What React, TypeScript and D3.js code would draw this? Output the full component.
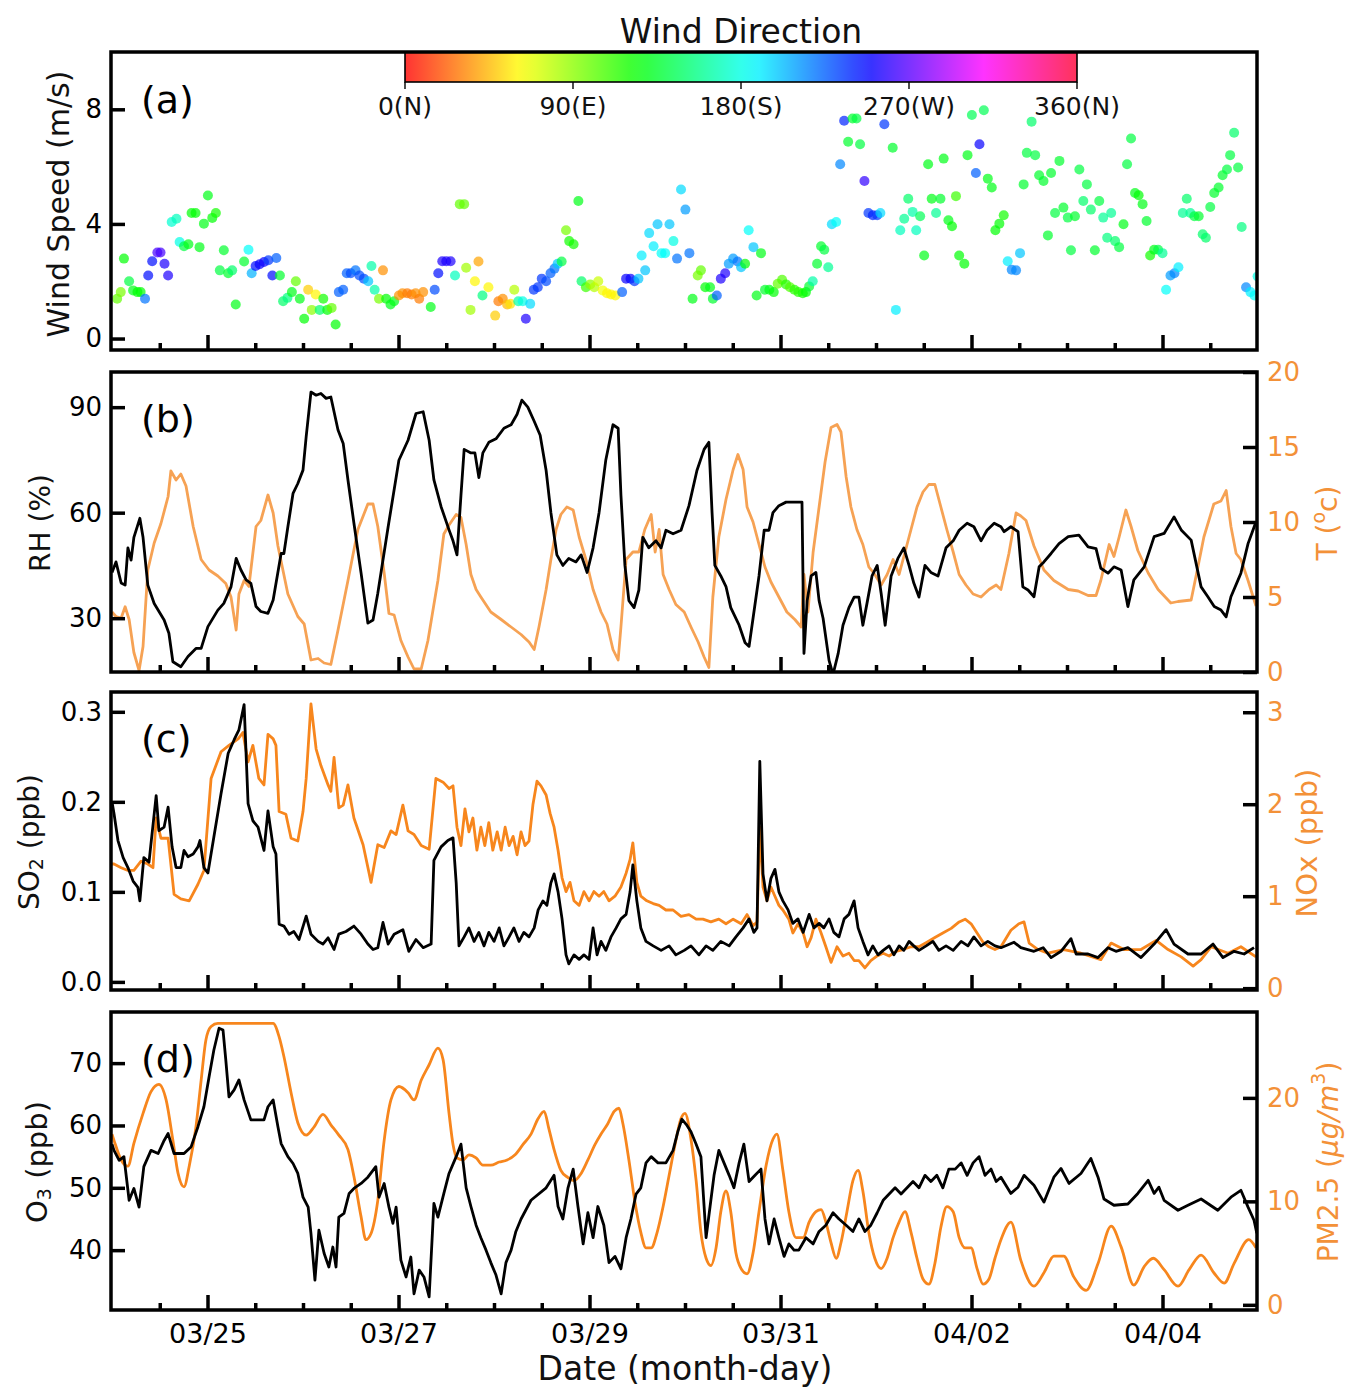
import React, { useRef, useEffect } from "react";
import * as d3 from "d3";

const FONT = "DejaVu Sans, Verdana, sans-serif";
const START = new Date(2021, 2, 24, 0, 0);
const END = new Date(2021, 3, 5, 0, 0);

// panel (a): hours since 03/24 00:00, wind speed (m/s), wind direction (deg)
const windHour = [1.3, 2.2, 3.0, 4.3, 5.3, 6.4, 7.2, 8.3, 9.1, 10.1, 11.4, 12.2, 13.2, 14.1, 15.0, 16.2, 17.0, 18.1, 19.2, 20.0, 21.0, 22.0, 23.1, 24.1, 25.2, 26.1, 27.1, 28.1, 29.2, 30.2, 31.1, 33.2, 34.3, 35.1, 36.1, 37.1, 38.2, 39.3, 40.3, 41.3, 42.2, 43.0, 44.1, 45.2, 46.2, 47.2, 48.3, 49.3, 50.2, 51.2, 52.2, 53.1, 54.1, 55.2, 56.2, 57.0, 58.1, 59.0, 60.0, 61.2, 62.2, 63.3, 64.4, 65.2, 66.0, 67.1, 68.1, 68.9, 70.0, 70.9, 72.1, 73.0, 74.2, 75.3, 76.3, 77.2, 78.2, 80.1, 81.1, 82.0, 83.0, 84.0, 85.1, 86.2, 87.4, 88.5, 89.0, 90.1, 91.2, 92.1, 93.1, 94.6, 96.3, 97.1, 98.2, 99.3, 100.1, 101.1, 102.1, 103.2, 104.0, 105.1, 106.0, 107.0, 108.0, 109.1, 110.2, 111.2, 112.0, 113.0, 114.1, 114.9, 116.0, 117.2, 118.0, 119.1, 120.2, 121.2, 122.2, 123.3, 124.4, 125.4, 126.5, 128.2, 129.2, 130.3, 131.3, 132.3, 133.1, 134.0, 135.0, 136.1, 137.1, 138.1, 139.0, 140.1, 141.1, 142.0, 143.0, 144.1, 145.1, 145.9, 147.2, 148.0, 149.1, 150.3, 151.0, 152.0, 153.0, 154.1, 155.0, 156.1, 157.2, 158.1, 159.1, 160.0, 161.2, 162.0, 163.1, 164.1, 165.2, 166.3, 167.3, 168.4, 169.4, 170.4, 171.5, 172.5, 173.6, 174.4, 175.2, 176.1, 177.2, 178.2, 179.0, 180.0, 180.9, 182.0, 183.0, 184.0, 185.0, 186.1, 187.1, 188.0, 189.1, 190.1, 191.2, 192.3, 193.1, 194.1, 196.2, 197.0, 198.1, 199.1, 200.1, 201.2, 202.1, 203.1, 204.1, 205.1, 206.0, 207.1, 208.2, 209.0, 210.2, 211.1, 212.1, 212.9, 214.2, 215.0, 216.1, 217.1, 218.0, 219.1, 220.1, 221.1, 222.0, 223.0, 224.1, 225.1, 226.1, 227.2, 228.2, 229.1, 229.9, 231.1, 232.0, 233.0, 234.1, 235.2, 236.0, 237.0, 238.1, 239.1, 240.2, 241.0, 242.0, 243.1, 244.1, 245.0, 246.0, 247.0, 248.1, 249.1, 250.1, 251.1, 252.1, 253.1, 254.2, 255.1, 256.1, 257.1, 258.0, 259.0, 260.0, 260.9, 261.9, 262.9, 264.0, 264.9, 266.0, 267.0, 268.0, 269.1, 270.1, 271.0, 272.0, 273.1, 274.1, 274.9, 276.0, 277.0, 278.1, 279.1, 280.2, 281.0, 282.0, 283.0, 283.9, 285.0, 286.1, 287.1, 287.9];
const windSpeed = [1.39, 1.62, 2.79, 2.0, 1.68, 1.62, 1.62, 1.39, 2.2, 2.7, 3.0, 3.0, 2.61, 2.2, 4.07, 4.18, 3.37, 3.22, 3.29, 4.38, 4.38, 3.19, 4.01, 4.99, 4.21, 4.38, 2.38, 3.08, 2.28, 2.38, 1.19, 2.69, 3.1, 2.28, 2.53, 2.59, 2.67, 2.73, 2.2, 2.81, 2.2, 1.3, 1.42, 1.62, 2.0, 1.39, 0.69, 1.7, 1.0, 1.54, 1.0, 1.39, 1.0, 1.07, 0.49, 1.62, 1.7, 2.28, 2.28, 2.38, 2.2, 2.09, 2.0, 2.53, 1.7, 1.39, 2.38, 1.39, 1.19, 1.3, 1.5, 1.58, 1.58, 1.54, 1.58, 1.39, 1.62, 1.1, 1.7, 2.28, 2.7, 2.7, 2.7, 2.2, 4.69, 4.69, 2.47, 1.0, 2.0, 2.69, 1.5, 1.79, 0.8, 1.3, 1.39, 1.19, 1.21, 1.7, 1.3, 1.3, 0.69, 1.21, 1.7, 1.79, 2.09, 2.0, 2.28, 2.44, 2.61, 2.69, 3.78, 3.4, 3.29, 4.8, 2.0, 1.79, 1.89, 1.79, 2.0, 1.68, 1.58, 1.54, 1.5, 1.62, 2.09, 2.09, 2.0, 2.09, 2.9, 2.38, 3.68, 3.22, 3.99, 2.98, 2.98, 3.99, 3.4, 2.79, 5.2, 4.5, 2.98, 1.39, 2.2, 2.38, 1.79, 1.79, 1.39, 1.5, 2.09, 2.28, 2.61, 2.79, 2.69, 2.49, 2.61, 3.78, 3.19, 1.5, 2.98, 1.7, 1.7, 1.62, 1.91, 2.05, 1.89, 1.79, 1.7, 1.62, 1.58, 1.62, 1.82, 2.0, 2.61, 3.22, 3.1, 2.49, 3.99, 4.07, 6.08, 7.6, 6.87, 7.68, 7.68, 6.78, 5.5, 4.38, 4.3, 4.3, 4.38, 7.48, 6.66, 1.0, 3.78, 4.18, 4.88, 4.42, 3.78, 4.27, 2.9, 6.08, 4.88, 4.38, 4.88, 6.28, 4.13, 3.92, 4.97, 2.9, 2.61, 6.4, 7.8, 5.78, 6.78, 7.97, 5.58, 5.27, 3.78, 4.01, 4.3, 2.7, 2.4, 2.38, 2.98, 5.38, 6.48, 7.57, 6.4, 5.7, 5.5, 3.6, 5.78, 4.38, 6.2, 4.57, 4.22, 3.08, 4.27, 5.9, 4.8, 5.38, 4.5, 3.08, 4.8, 4.22, 3.52, 4.38, 3.4, 3.19, 3.99, 6.08, 6.98, 5.08, 5.0, 4.69, 4.1, 2.9, 3.1, 3.1, 2.98, 1.7, 2.2, 2.28, 2.49, 4.38, 4.88, 4.38, 4.27, 4.27, 3.64, 3.52, 4.59, 5.08, 5.27, 5.7, 5.9, 6.4, 7.18, 5.97, 3.89, 1.79, 1.62, 1.5, 2.17];
const windDir = [100, 95, 125, 140, 130, 125, 125, 220, 245, 245, 265, 265, 255, 255, 175, 170, 180, 140, 130, 125, 125, 130, 130, 130, 125, 120, 140, 135, 135, 150, 130, 135, 185, 205, 245, 250, 250, 235, 245, 225, 135, 150, 155, 130, 100, 130, 125, 50, 90, 60, 150, 120, 125, 100, 125, 225, 225, 225, 230, 220, 230, 230, 200, 165, 165, 95, 35, 125, 130, 130, 35, 35, 30, 30, 35, 30, 35, 130, 230, 245, 255, 255, 255, 170, 100, 100, 85, 85, 60, 40, 155, 60, 50, 30, 35, 45, 55, 80, 165, 180, 255, 195, 235, 235, 235, 230, 225, 220, 200, 140, 95, 120, 120, 130, 150, 110, 90, 80, 75, 65, 60, 60, 60, 225, 250, 250, 235, 200, 190, 200, 195, 190, 200, 185, 185, 200, 180, 220, 195, 210, 220, 130, 95, 100, 125, 130, 135, 225, 255, 255, 210, 210, 220, 200, 125, 185, 200, 130, 130, 135, 130, 125, 100, 105, 115, 105, 115, 115, 120, 125, 135, 165, 135, 135, 140, 160, 195, 185, 215, 240, 135, 135, 140, 140, 260, 235, 240, 235, 195, 235, 135, 190, 170, 160, 150, 165, 170, 145, 130, 130, 130, 160, 135, 130, 130, 125, 110, 125, 125, 130, 145, 225, 250, 145, 130, 130, 125, 125, 120, 190, 215, 215, 200, 135, 140, 150, 140, 135, 135, 135, 135, 140, 135, 135, 140, 140, 135, 140, 150, 140, 150, 135, 140, 160, 155, 160, 150, 140, 130, 140, 140, 130, 125, 130, 135, 120, 130, 140, 160, 185, 210, 215, 190, 160, 150, 160, 140, 135, 150, 150, 140, 135, 135, 135, 140, 140, 150, 140, 155, 215, 190, 185, 180];

// panel (b): [hour, RH %] and [hour, T degC]
const rhSeries = [[0, 43], [1.0, 46], [2.3, 40], [3.3, 39.4], [4.0, 50], [4.8, 46.5], [5.5, 53], [7.0, 58.4], [7.8, 53], [9.0, 39.4], [10.6, 34.2], [13.1, 29.5], [14.3, 25.7], [15.3, 17.6], [17.3, 16.2], [19.1, 19.1], [21.1, 21.4], [22.4, 21.4], [24.1, 27.6], [26.6, 32.3], [28.1, 34.2], [29.9, 38.9], [31.2, 47.0], [32.4, 43.7], [33.7, 40.9], [34.9, 39.9], [36.2, 33.3], [37.4, 31.9], [39.2, 31.4], [40.5, 35.2], [42.5, 48.4], [43.2, 48.4], [44.2, 56.0], [45.5, 65.5], [46.7, 68.3], [48.0, 72.1], [48.8, 81.6], [50.0, 94.3], [51.3, 93.4], [52.5, 93.9], [53.8, 92.5], [55.0, 92.9], [56.8, 83.5], [58.1, 79.7], [59.3, 69.3], [60.8, 57.0], [62.6, 42.8], [64.3, 28.6], [65.6, 29.5], [66.8, 37.1], [69.4, 56.0], [72.1, 74.9], [74.4, 80.6], [76.4, 88.2], [78.2, 88.7], [79.7, 80.6], [80.9, 69.3], [82.7, 61.7], [84.7, 55.1], [85.7, 52], [86.7, 48], [87.7, 65], [88.5, 78], [90.2, 77], [91.2, 77], [92.2, 70], [93.2, 77], [94.7, 80], [96.5, 81], [98.5, 84], [100.3, 85], [101.8, 88], [103.0, 92], [104.5, 90], [106.1, 86], [107.6, 82], [109.1, 72], [110.3, 60], [111.8, 48], [113.3, 45], [114.8, 47], [116.6, 46], [117.9, 48], [119.4, 43], [120.9, 50], [122.4, 60], [124.1, 75], [125.9, 85], [127.2, 84], [127.9, 65], [128.9, 45], [129.9, 35], [131.2, 33], [132.4, 38], [133.4, 53], [134.9, 50], [136.7, 52], [138.0, 50], [139.2, 55], [141.0, 54], [143.0, 55], [145.0, 62], [147.0, 72], [148.8, 78], [150.0, 80], [150.8, 60], [151.5, 45], [153.0, 42], [154.3, 39], [155.5, 33], [157.6, 28], [159.1, 23], [160.1, 22], [161.1, 30], [162.6, 42], [163.9, 55], [165.1, 55], [166.1, 60], [167.6, 62], [169.4, 63], [171.9, 63], [173.4, 63], [173.9, 20], [174.7, 35], [175.7, 42], [176.9, 43], [177.7, 35], [178.7, 30], [180.2, 18], [181.2, 14], [182.5, 20], [183.7, 28], [185.2, 33], [186.5, 36], [187.7, 36], [188.7, 28], [189.7, 34], [191.0, 42], [192.3, 45], [193.3, 37], [194.3, 28], [195.8, 42], [197.5, 47], [199.0, 50], [200.3, 45], [201.5, 40], [202.8, 36], [204.3, 45], [205.8, 43], [207.6, 42], [209.6, 50], [211.4, 52], [212.9, 55], [214.9, 57], [216.6, 56], [218.4, 52], [219.9, 55], [221.7, 57], [223.4, 56], [224.2, 54.6], [225.9, 56], [227.7, 54.6], [228.9, 38.9], [230.2, 38], [231.7, 36.1], [233.0, 44.6], [234.2, 46], [236.0, 48.4], [238.0, 51.2], [240.3, 53.2], [243.0, 53.6], [245.3, 50.3], [247.3, 49.8], [248.5, 44.2], [250.3, 42.8], [251.8, 44.6], [253.6, 43.7], [255.3, 33.3], [256.8, 40.9], [259.4, 44.6], [261.9, 53.2], [264.4, 54.1], [266.9, 58.8], [268.7, 55.1], [271.2, 52.2], [273.7, 38.9], [275.4, 36.1], [277.0, 33.3], [278.7, 32.3], [280.0, 30.4], [281.2, 36.1], [283.0, 40.9], [283.7, 42.8], [285.5, 51.2], [287.5, 57.4]];
const tSeries = [[0, 4.0], [1.0, 3.7], [2.3, 3.6], [3.3, 4.35], [4.3, 3.5], [5.5, 1.3], [6.8, 0.1], [7.8, 1.7], [9.0, 6.8], [10.6, 8.6], [12.3, 9.9], [14.1, 11.7], [14.8, 13.4], [16.1, 12.8], [17.3, 13.2], [18.6, 12.4], [20.4, 9.7], [22.4, 7.5], [24.4, 6.8], [26.6, 6.4], [28.6, 5.9], [29.9, 5.0], [31.2, 2.8], [31.9, 5.2], [33.2, 6.1], [34.4, 5.7], [36.2, 9.7], [37.4, 10.1], [39.2, 11.8], [40.5, 10.6], [41.7, 8.4], [44.2, 5.2], [46.7, 3.7], [48.3, 3.2], [50.0, 0.8], [51.8, 0.9], [53.3, 0.6], [55.0, 0.5], [56.8, 2.8], [59.3, 6.1], [61.8, 9.5], [64.3, 11.2], [65.6, 11.2], [66.8, 9.7], [68.4, 6.6], [69.6, 3.9], [70.9, 3.8], [72.6, 2.1], [74.4, 1.0], [75.9, 0.2], [77.7, 0.2], [79.4, 2.1], [81.9, 6.1], [83.4, 9.2], [84.7, 9.8], [86.5, 10.5], [87.7, 10.3], [89.0, 8.5], [90.2, 6.5], [91.5, 5.5], [92.7, 5], [95.2, 4], [97.8, 3.5], [100.3, 3], [102.8, 2.5], [104.8, 2], [106.1, 1.5], [107.3, 3], [109.1, 5.5], [110.3, 7.5], [111.6, 9.5], [112.8, 10.5], [114.3, 11], [115.9, 10.8], [117.4, 9], [119.1, 7.5], [120.9, 5.5], [122.9, 4], [124.4, 3.2], [125.9, 1.5], [127.2, 0.8], [127.9, 3], [129.2, 7.5], [130.9, 8], [132.4, 8], [133.9, 9.5], [135.5, 10.5], [136.5, 8], [137.5, 9.5], [138.5, 6.5], [140.0, 5.5], [141.7, 4.5], [143.8, 4], [145.5, 3], [147.3, 2], [148.8, 1], [150.0, 0.3], [151.0, 5], [152.5, 9], [154.3, 11.5], [156.1, 13.5], [157.3, 14.5], [158.6, 13.5], [159.6, 11], [161.1, 10], [162.6, 8.5], [164.1, 7], [165.6, 6], [167.6, 5], [169.6, 4], [171.6, 3.5], [173.2, 3], [173.9, 6.5], [174.9, 4], [176.2, 8], [177.7, 11], [179.2, 14], [180.7, 16.3], [182.2, 16.5], [183.2, 16], [184.5, 13], [185.7, 11], [187.2, 9.5], [188.7, 8.5], [190.2, 7], [191.7, 6.5], [193.3, 5.8], [194.8, 6.5], [196.3, 7.5], [197.8, 6.5], [199.3, 8], [200.8, 9.5], [202.3, 11], [203.8, 12], [205.3, 12.5], [206.8, 12.5], [208.3, 11], [209.8, 9.5], [211.4, 8], [212.9, 6.5], [214.6, 5.8], [216.4, 5.2], [218.4, 5], [220.4, 5.5], [222.2, 5.8], [223.4, 5.5], [225.4, 7.9], [227.2, 10.6], [228.4, 10.4], [229.7, 10.1], [231.7, 8.4], [234.2, 6.8], [236.7, 6.1], [240.3, 5.5], [242.8, 5.4], [245.3, 5.1], [247.3, 5.1], [248.5, 6.1], [250.6, 8.5], [251.8, 7.7], [253.1, 9.0], [254.8, 10.8], [256.1, 9.7], [257.8, 8.1], [260.4, 6.6], [262.9, 5.5], [266.1, 4.6], [267.9, 4.7], [271.2, 4.8], [272.9, 7.0], [274.4, 9.0], [276.9, 11.2], [278.7, 11.4], [280.0, 12.1], [281.2, 9.7], [282.5, 7.9], [283.7, 7.5], [285.5, 6.1], [287.5, 4.4]];

// panel (c): [hour, SO2 ppb] and [hour, NOx ppb]
const so2Series = [[0, 0.2], [0.5, 0.187], [1.5, 0.157], [2.8, 0.138], [4.0, 0.127], [5.3, 0.112], [6.5, 0.105], [7.0, 0.09], [8.0, 0.138], [9.3, 0.133], [11.1, 0.207], [11.8, 0.168], [13.1, 0.172], [14.1, 0.194], [15.1, 0.15], [16.1, 0.127], [17.3, 0.127], [18.1, 0.146], [19.1, 0.139], [20.4, 0.142], [21.6, 0.15], [22.1, 0.157], [23.1, 0.127], [24.1, 0.121], [25.6, 0.161], [27.4, 0.209], [29.2, 0.254], [30.7, 0.269], [31.9, 0.28], [33.2, 0.308], [34.2, 0.198], [35.4, 0.179], [36.7, 0.172], [38.2, 0.146], [39.2, 0.19], [40.5, 0.15], [41.2, 0.142], [42.0, 0.064], [43.2, 0.062], [44.5, 0.053], [45.7, 0.056], [47.0, 0.047], [48.8, 0.073], [50.0, 0.053], [51.8, 0.045], [53.0, 0.042], [54.3, 0.049], [55.8, 0.036], [57.0, 0.053], [58.8, 0.056], [60.8, 0.062], [62.6, 0.053], [64.3, 0.042], [65.6, 0.036], [66.8, 0.038], [68.1, 0.066], [69.4, 0.042], [70.9, 0.053], [73.1, 0.058], [74.6, 0.034], [76.4, 0.047], [78.2, 0.038], [80.2, 0.042], [80.9, 0.135], [82.7, 0.15], [84.4, 0.157], [85.7, 0.16], [86.5, 0.11], [87.2, 0.04], [88.5, 0.05], [89.7, 0.06], [91.0, 0.045], [92.2, 0.055], [93.5, 0.04], [94.7, 0.055], [96.0, 0.045], [97.3, 0.06], [98.5, 0.04], [99.8, 0.05], [101.0, 0.06], [102.3, 0.045], [103.5, 0.055], [104.8, 0.05], [106.1, 0.06], [107.1, 0.08], [108.3, 0.09], [109.3, 0.085], [110.3, 0.11], [111.1, 0.12], [112.1, 0.1], [113.1, 0.07], [114.1, 0.03], [114.8, 0.02], [116.1, 0.03], [117.4, 0.025], [118.6, 0.03], [119.9, 0.025], [120.9, 0.06], [121.9, 0.03], [122.9, 0.045], [124.1, 0.035], [125.4, 0.05], [126.7, 0.06], [127.9, 0.07], [129.2, 0.075], [130.2, 0.1], [130.9, 0.13], [131.9, 0.09], [132.9, 0.06], [134.2, 0.045], [136.0, 0.04], [138.0, 0.035], [140.0, 0.04], [141.7, 0.03], [143.8, 0.035], [145.5, 0.04], [147.5, 0.03], [149.3, 0.04], [151.0, 0.035], [153.0, 0.045], [155.1, 0.04], [156.8, 0.05], [158.6, 0.06], [160.1, 0.07], [161.3, 0.055], [162.1, 0.06], [162.8, 0.245], [163.6, 0.12], [164.6, 0.09], [165.6, 0.115], [166.6, 0.125], [167.6, 0.1], [168.6, 0.09], [169.9, 0.08], [171.1, 0.065], [172.4, 0.07], [173.7, 0.055], [175.2, 0.075], [176.4, 0.06], [177.7, 0.065], [178.9, 0.06], [180.2, 0.07], [181.4, 0.055], [182.7, 0.05], [184.0, 0.07], [185.2, 0.075], [186.5, 0.09], [187.5, 0.06], [188.7, 0.045], [190.0, 0.03], [191.2, 0.04], [192.5, 0.03], [193.8, 0.035], [195.3, 0.04], [196.5, 0.03], [197.8, 0.04], [199.0, 0.035], [200.3, 0.045], [201.5, 0.04], [202.8, 0.035], [204.6, 0.04], [206.3, 0.045], [207.8, 0.035], [209.6, 0.04], [211.4, 0.035], [213.4, 0.045], [215.1, 0.04], [216.6, 0.05], [218.4, 0.04], [220.1, 0.045], [221.9, 0.04], [223.4, 0.038], [226.7, 0.044], [228.4, 0.038], [231.7, 0.034], [234.0, 0.038], [236.0, 0.027], [238.5, 0.034], [241.0, 0.048], [242.3, 0.031], [245.3, 0.031], [247.8, 0.027], [250.3, 0.038], [252.3, 0.034], [255.3, 0.038], [258.6, 0.027], [261.9, 0.042], [264.9, 0.058], [266.9, 0.042], [270.4, 0.031], [273.7, 0.031], [276.7, 0.042], [279.2, 0.027], [282.0, 0.034], [284.5, 0.031], [287.0, 0.038]];
const noxSeries = [[0, 1.35], [0.5, 1.35], [2.3, 1.31], [4.0, 1.28], [5.5, 1.28], [7.3, 1.38], [9.0, 1.35], [10.3, 1.31], [11.1, 1.85], [12.3, 1.63], [14.1, 1.63], [15.6, 1.02], [17.3, 0.97], [19.4, 0.95], [21.6, 1.13], [23.1, 1.28], [24.9, 2.28], [27.4, 2.57], [29.4, 2.64], [31.7, 2.71], [32.9, 2.78], [34.2, 2.46], [35.4, 2.64], [36.9, 2.28], [38.2, 2.21], [39.2, 2.76], [40.5, 2.71], [41.2, 2.64], [42.0, 1.92], [43.7, 1.89], [45.0, 1.63], [46.7, 1.6], [48.0, 1.92], [48.8, 2.28], [50.0, 3.09], [51.3, 2.6], [52.5, 2.42], [54.3, 2.21], [55.0, 2.14], [55.8, 2.51], [57.0, 1.96], [58.1, 1.99], [59.3, 2.21], [60.8, 1.85], [63.1, 1.56], [65.1, 1.15], [66.8, 1.56], [68.4, 1.53], [70.1, 1.71], [71.4, 1.67], [73.1, 1.99], [74.4, 1.71], [75.9, 1.67], [77.7, 1.55], [79.7, 1.51], [81.4, 2.28], [83.2, 2.24], [84.7, 2.17], [85.7, 2.2], [86.7, 1.75], [87.7, 1.55], [88.7, 1.95], [89.7, 1.7], [90.7, 1.85], [91.7, 1.5], [92.7, 1.75], [93.7, 1.55], [94.7, 1.8], [95.7, 1.5], [96.8, 1.7], [97.8, 1.5], [98.8, 1.75], [99.8, 1.55], [100.8, 1.65], [101.8, 1.45], [102.8, 1.7], [103.8, 1.55], [104.8, 1.6], [105.8, 2.0], [106.8, 2.25], [107.8, 2.2], [109.1, 2.1], [110.1, 1.9], [111.1, 1.75], [112.1, 1.5], [113.1, 1.2], [114.1, 1.05], [115.1, 1.15], [116.1, 0.95], [117.4, 0.9], [118.6, 1.05], [119.9, 0.95], [121.1, 1.05], [122.4, 1.0], [123.6, 1.05], [124.9, 0.95], [126.4, 1.0], [127.9, 1.1], [129.2, 1.25], [130.2, 1.4], [130.9, 1.58], [131.9, 1.15], [132.9, 1.0], [134.4, 0.95], [136.0, 0.92], [137.5, 0.9], [139.2, 0.85], [141.0, 0.85], [143.0, 0.78], [145.0, 0.8], [146.8, 0.75], [148.5, 0.75], [150.5, 0.72], [152.5, 0.75], [154.3, 0.7], [156.1, 0.75], [158.1, 0.7], [159.6, 0.8], [161.1, 0.68], [162.1, 0.72], [162.8, 1.75], [163.6, 1.1], [164.6, 0.95], [165.6, 1.1], [166.6, 1.0], [167.6, 0.9], [168.6, 0.85], [170.1, 0.75], [171.1, 0.6], [172.4, 0.7], [173.7, 0.6], [174.7, 0.45], [175.7, 0.55], [176.9, 0.75], [178.2, 0.6], [179.4, 0.45], [180.7, 0.28], [182.2, 0.45], [183.7, 0.35], [185.2, 0.38], [186.5, 0.3], [187.7, 0.3], [189.2, 0.22], [190.7, 0.3], [192.3, 0.35], [193.8, 0.38], [195.3, 0.35], [197.0, 0.4], [198.8, 0.42], [200.8, 0.45], [202.8, 0.45], [204.8, 0.5], [206.8, 0.55], [208.8, 0.6], [210.9, 0.65], [212.9, 0.72], [214.4, 0.75], [215.9, 0.7], [217.4, 0.6], [218.9, 0.5], [220.4, 0.45], [221.9, 0.42], [223.4, 0.45], [225.9, 0.63], [227.9, 0.7], [229.2, 0.72], [230.5, 0.49], [232.7, 0.42], [235.2, 0.38], [239.2, 0.42], [243.5, 0.38], [248.5, 0.31], [251.1, 0.49], [254.3, 0.42], [258.6, 0.42], [262.4, 0.52], [265.4, 0.42], [268.7, 0.34], [271.7, 0.24], [273.7, 0.31], [276.2, 0.45], [280.5, 0.38], [283.7, 0.45], [287.5, 0.34]];

// panel (d): [hour, O3 ppb] and [hour, PM2.5 ug/m3]
const o3Series = [[0, 57], [0.5, 56], [1.8, 54.4], [3.0, 55], [4.3, 48], [5.5, 49.9], [6.8, 46.9], [8.0, 53.4], [9.8, 56], [11.6, 55.5], [13.1, 57.6], [14.1, 58.7], [15.6, 55.5], [18.1, 55.5], [19.9, 56.6], [21.6, 59.8], [23.1, 63], [24.4, 67.8], [25.6, 72.1], [26.9, 75.6], [27.9, 75.3], [28.6, 70.5], [29.4, 64.6], [30.7, 65.7], [31.9, 67.3], [33.2, 64.1], [34.9, 60.9], [36.9, 60.9], [38.2, 60.9], [39.2, 63], [40.5, 64.1], [41.7, 59.8], [42.5, 57.1], [44.2, 55], [45.5, 53.9], [46.7, 52.3], [48.0, 48.5], [49.3, 46.9], [50.0, 42.7], [51.0, 35.2], [52.0, 43.2], [53.3, 39.5], [54.5, 37.3], [55.5, 40.5], [56.3, 37.3], [57.0, 45.3], [58.3, 45.9], [59.6, 49.1], [60.8, 49.9], [62.6, 50.7], [64.3, 51.7], [66.3, 53.4], [67.1, 48.5], [68.4, 50.7], [69.6, 46.9], [70.6, 44.3], [71.4, 46.9], [72.6, 38.4], [73.9, 35.7], [75.1, 38.9], [75.9, 33], [77.2, 36.8], [78.4, 35.7], [79.7, 32.5], [80.9, 47.5], [81.9, 45.3], [83.4, 49.1], [84.7, 52.3], [86.5, 55], [87.7, 57], [89.0, 50], [90.2, 47], [91.5, 44], [92.7, 42], [94.0, 40], [95.2, 38], [96.5, 36], [97.8, 33], [99.0, 38], [100.3, 40], [101.5, 43], [102.8, 45], [105.3, 48], [109.1, 50], [111.1, 52], [112.1, 47], [113.3, 45], [114.6, 50], [115.9, 53], [117.1, 47], [118.4, 41], [119.6, 46], [120.9, 42], [122.1, 47], [123.6, 44], [124.9, 38], [126.4, 39], [127.9, 37], [129.2, 42], [130.4, 45], [131.7, 49], [132.9, 50], [134.2, 54], [135.5, 55], [137.2, 54], [139.2, 54], [141.0, 56], [142.2, 59], [143.2, 61], [144.5, 60], [145.5, 59], [146.8, 57], [148.0, 55], [149.3, 42], [150.3, 47], [151.3, 52], [152.5, 56], [153.8, 54], [155.1, 52], [156.3, 50], [157.6, 54], [158.8, 57], [160.1, 51], [161.6, 52], [163.1, 53], [164.1, 45], [165.1, 41], [166.4, 45], [167.6, 42], [168.9, 39], [170.1, 41], [171.4, 40], [172.6, 40], [174.4, 42], [176.2, 41], [177.7, 43], [179.4, 44], [181.2, 46], [182.7, 45], [184.5, 44], [186.2, 43], [187.7, 45], [189.2, 43], [190.7, 44], [192.3, 46], [193.8, 48], [195.3, 49], [196.8, 50], [198.3, 49], [199.8, 50], [201.3, 51], [202.8, 50], [204.3, 52], [205.8, 51], [207.3, 52], [208.8, 50], [210.3, 53], [211.9, 53], [213.4, 54], [214.9, 52], [216.4, 54], [217.9, 55], [219.4, 52], [220.9, 53], [222.2, 51], [223.4, 51.7], [225.9, 49.1], [227.7, 50.1], [229.2, 52], [231.7, 50.4], [234.2, 47.7], [236.7, 51.7], [238.5, 53.1], [240.5, 50.7], [243.5, 52.3], [246.0, 54.7], [247.8, 51.7], [249.3, 48.2], [251.8, 47.2], [255.3, 47.4], [257.8, 49.1], [260.4, 51.2], [261.9, 49.1], [263.1, 50.1], [264.4, 48], [267.9, 46.4], [270.4, 47.2], [273.7, 48.2], [277.9, 46.4], [281.2, 48.5], [283.7, 49.6], [285.5, 46.9], [287.0, 44.8], [287.7, 42.7]];
const pmSeries = [[0, 16.5], [0.5, 15.9], [2.3, 14], [4.0, 13.4], [5.5, 15.6], [7.8, 18.5], [9.8, 20.6], [11.8, 21.3], [13.6, 19.8], [15.3, 15.9], [16.6, 12.7], [18.1, 11.4], [19.4, 13.4], [21.1, 17.2], [22.4, 21.7], [23.6, 25.6], [24.9, 26.9], [26.6, 27.2], [40.5, 27.2], [42.0, 25.9], [43.2, 24.0], [45.0, 20.5], [46.7, 17.6], [48.8, 16.4], [50.8, 17.2], [53.0, 18.4], [55.0, 17.4], [57.0, 16.4], [59.3, 15.0], [60.8, 12.4], [62.6, 8.5], [63.8, 6.3], [65.1, 6.9], [66.8, 10.1], [68.4, 15.9], [70.1, 19.8], [72.1, 21.1], [74.4, 20.5], [75.9, 19.8], [77.7, 21.7], [79.7, 23.2], [81.9, 24.8], [83.2, 23.7], [84.7, 18.5], [85.7, 15.5], [86.7, 14.2], [88.2, 14], [89.7, 14.5], [91.5, 14.2], [93.2, 13.5], [95.2, 13.5], [97.3, 13.8], [99.3, 14], [101.3, 14.5], [103.3, 15.5], [105.3, 16.5], [107.1, 18], [108.6, 18.7], [109.8, 17], [111.1, 15], [112.8, 13], [114.6, 12.3], [116.1, 12], [117.9, 12.7], [119.6, 14], [121.4, 15.5], [122.9, 16.5], [124.6, 17.5], [126.2, 18.7], [127.4, 19], [128.4, 17.5], [129.9, 14], [131.4, 10], [132.9, 7], [134.2, 5.5], [135.5, 5.5], [137.0, 7], [138.5, 9.5], [140.0, 12.5], [141.5, 15.5], [143.0, 18], [144.0, 18.5], [145.5, 16], [146.8, 12], [148.0, 7], [149.3, 4.5], [150.5, 3.8], [151.8, 5.5], [153.0, 9], [154.3, 11], [155.5, 9], [156.8, 5], [158.1, 3.5], [159.6, 3], [161.1, 5], [162.6, 9], [164.4, 13.5], [166.1, 16], [167.1, 16.5], [168.6, 13], [170.1, 9], [171.9, 6.5], [173.7, 6.5], [175.2, 8], [176.9, 9], [178.2, 9.2], [179.4, 8], [180.7, 6], [182.0, 4.5], [183.2, 6], [184.7, 9], [186.2, 12], [187.5, 13], [188.7, 11], [190.2, 7], [191.7, 4.5], [193.3, 3.5], [194.8, 4.5], [196.3, 6.5], [197.8, 8], [199.3, 9], [200.8, 7], [202.3, 4.5], [203.8, 2.5], [205.3, 2], [206.8, 4], [208.3, 7.5], [209.8, 9.5], [211.4, 9], [212.9, 6.5], [214.4, 5.5], [215.9, 5.5], [217.4, 3.5], [218.9, 2], [220.4, 2.5], [221.9, 4.5], [223.4, 6.3], [225.9, 8.0], [228.4, 4.3], [231.7, 1.8], [234.2, 3.1], [236.7, 4.7], [239.2, 4.7], [241.7, 2.7], [244.8, 1.4], [247.8, 4.0], [251.1, 7.6], [253.6, 5.6], [256.8, 1.9], [259.4, 3.7], [261.7, 4.5], [264.4, 3.4], [267.9, 1.8], [270.7, 3.4], [273.7, 4.8], [276.9, 3.1], [279.5, 2.1], [282.0, 4.0], [285.7, 6.3], [287.5, 5.5]];

const rhTicks = [30, 60, 90];
const tTicks = [0, 5, 10, 15, 20];
const windTicks = [0, 4, 8];
const so2Ticks = [0, 0.1, 0.2, 0.3];
const noxTicks = [0, 1, 2, 3];
const o3Ticks = [40, 50, 60, 70];
const pmTicks = [0, 10, 20];
const dirTicks = [0, 90, 180, 270, 360];
const dirLabels = ["0(N)", "90(E)", "180(S)", "270(W)", "360(N)"];

const ORANGE_TEXT = "#f39138";
const ORANGE_T = "#f6a254";
const ORANGE = "#f7861d";
const dirColor = (d: number) => d3.hsl(d * 0.967, 1, 0.5).toString();

export default function App() {
  const ref = useRef<SVGSVGElement>(null);

  useEffect(() => {
    const svg = d3.select(ref.current);
    svg.selectAll("*").remove();
    svg.attr("font-family", FONT);

    const L = 111, R = 1257;
    const x = d3.scaleTime().domain([START, END]).range([112, 1258]);
    const at = (h: number) => new Date(START.getTime() + h * 3600000);

    const panels = [
      { top: 52, bottom: 350 },
      { top: 372, bottom: 672 },
      { top: 692, bottom: 990 },
      { top: 1012, bottom: 1310 },
    ];

    const defs = svg.append("defs");
    panels.forEach((p, i) => {
      defs.append("clipPath").attr("id", `clip${i}`)
        .append("rect").attr("x", L).attr("y", p.top).attr("width", R - L).attr("height", p.bottom - p.top);
    });

    const ticks12 = d3.timeHour.every(12)!.range(START, END).filter((d) => d > START);
    const isMajor = (d: Date) => d.getHours() === 0 && Math.round((+d - +START) / 86400000) % 2 === 1;
    const minor = ticks12.filter((d) => !isMajor(d));
    const major = ticks12.filter(isMajor);

    const styleAxis = (g: any, size: number, color = "#000") => {
      g.select(".domain").remove();
      g.selectAll("line").attr("stroke", "#000").attr("stroke-width", 3.5);
      g.attr("font-size", size).attr("font-family", FONT);
      g.selectAll("text").attr("fill", color);
    };

    const drawX = (p: { top: number; bottom: number }, labels: boolean) => {
      const g1 = svg.append("g").attr("transform", `translate(0,${p.bottom})`)
        .call(d3.axisBottom(x).tickValues(minor).tickSize(-7).tickFormat(() => ""));
      styleAxis(g1, 27);
      const g2 = svg.append("g").attr("transform", `translate(0,${p.bottom})`)
        .call(d3.axisBottom(x).tickValues(major).tickSize(-15).tickPadding(14)
          .tickFormat((d: any) => (labels ? d3.timeFormat("%m/%d")(d) : "")));
      styleAxis(g2, 27);
    };

    const drawLeft = (y: any, vals: number[], fmt: (v: number) => string) => {
      const g = svg.append("g").attr("transform", `translate(${L},0)`)
        .call(d3.axisLeft(y).tickValues(vals).tickSize(-14).tickPadding(9).tickFormat(fmt as any));
      styleAxis(g, 26);
    };
    const drawRight = (y: any, vals: number[]) => {
      const g = svg.append("g").attr("transform", `translate(${R},0)`)
        .call(d3.axisRight(y).tickValues(vals).tickSize(-14).tickPadding(10).tickFormat(d3.format("d") as any));
      styleAxis(g, 26, ORANGE_TEXT);
    };

    const drawLine = (i: number, data: number[][], y: any, color: string, curve: any = d3.curveLinear) => {
      const line = d3.line<number[]>().x((d) => x(at(d[0]))).y((d) => y(d[1])).curve(curve);
      svg.append("path").attr("clip-path", `url(#clip${i})`).datum(data)
        .attr("d", line).attr("fill", "none").attr("stroke", color)
        .attr("stroke-width", 2.8).attr("stroke-linejoin", "round");
    };

    const frame = (p: { top: number; bottom: number }) => {
      svg.append("rect").attr("x", L).attr("y", p.top).attr("width", R - L).attr("height", p.bottom - p.top)
        .attr("fill", "none").attr("stroke", "#000").attr("stroke-width", 3.5);
    };

    const panelLabel = (txt: string, yb: number) => {
      svg.append("text").attr("x", 141).attr("y", yb).attr("font-size", 38).attr("fill", "#000").text(txt);
    };

    const vTitle = (cx: number, cy: number, size: number, color: string, build: (t: any) => void) => {
      const t = svg.append("text").attr("transform", `translate(${cx},${cy}) rotate(-90)`)
        .attr("text-anchor", "middle").attr("dominant-baseline", "central")
        .attr("font-size", size).attr("fill", color);
      build(t);
    };

    // ---- (a) wind ----
    const pa = panels[0];
    const yWind = d3.scaleLinear().domain([-0.4, 10]).range([pa.bottom, pa.top]);
    const wind = windHour.map((h, i) => ({ h, s: windSpeed[i], d: windDir[i] }));
    svg.append("g").attr("clip-path", "url(#clip0)").selectAll("circle").data(wind).enter().append("circle")
      .attr("cx", (d) => x(at(d.h))).attr("cy", (d) => yWind(d.s)).attr("r", 5)
      .attr("fill", (d) => dirColor(d.d)).attr("fill-opacity", 0.7);

    const cb = d3.scaleLinear().domain([0, 360]).range([405, 1077]);
    const grad = defs.append("linearGradient").attr("id", "wdgrad").attr("x1", "0%").attr("x2", "100%");
    d3.range(0, 361, 10).forEach((v) => {
      grad.append("stop").attr("offset", `${(v / 360) * 100}%`).attr("stop-color", dirColor(v));
    });
    svg.append("rect").attr("x", cb(0)).attr("y", pa.top).attr("width", cb(360) - cb(0)).attr("height", 30)
      .attr("fill", "url(#wdgrad)").attr("fill-opacity", 0.8);
    svg.append("rect").attr("x", cb(0)).attr("y", pa.top).attr("width", cb(360) - cb(0)).attr("height", 30)
      .attr("fill", "none").attr("stroke", "#000").attr("stroke-width", 1.6);
    dirTicks.forEach((v, i) => {
      svg.append("line").attr("x1", cb(v)).attr("x2", cb(v)).attr("y1", pa.top + 30).attr("y2", pa.top + 37)
        .attr("stroke", "#000").attr("stroke-width", 1.4);
      svg.append("text").attr("x", cb(v)).attr("y", 115).attr("text-anchor", "middle")
        .attr("font-size", 25).attr("fill", "#111").text(dirLabels[i]);
    });
    svg.append("text").attr("x", 741).attr("y", 43).attr("text-anchor", "middle")
      .attr("font-size", 33).attr("fill", "#111").text("Wind Direction");

    drawLeft(yWind, windTicks, d3.format("d"));
    drawX(pa, false);
    frame(pa);
    panelLabel("(a)", 113);
    vTitle(58, 204, 30, "#111", (t) => t.text("Wind Speed (m/s)"));

    // ---- (b) RH / T ----
    const pb = panels[1];
    const yRH = d3.scaleLinear().domain([14.7, 100]).range([pb.bottom, pb.top]);
    const yT = d3.scaleLinear().domain([0, 20]).range([pb.bottom, pb.top]);
    drawLine(1, tSeries, yT, ORANGE_T);
    drawLine(1, rhSeries, yRH, "#000");
    drawLeft(yRH, rhTicks, d3.format("d"));
    drawRight(yT, tTicks);
    drawX(pb, false);
    frame(pb);
    panelLabel("(b)", 432);
    vTitle(40, 523, 28, "#111", (t) => t.text("RH (%)"));
    vTitle(1327, 523, 28, ORANGE_TEXT, (t) => {
      t.append("tspan").text("T (");
      t.append("tspan").attr("font-size", 19).attr("dy", -9).text("o");
      t.append("tspan").attr("dy", 9).text("c)");
    });

    // ---- (c) SO2 / NOx ----
    const pc = panels[2];
    const ySO2 = d3.scaleLinear().domain([-0.009, 0.322]).range([pc.bottom, pc.top]);
    const yNOx = d3.scaleLinear().domain([-0.02, 3.22]).range([pc.bottom, pc.top]);
    drawLine(2, noxSeries, yNOx, ORANGE);
    drawLine(2, so2Series, ySO2, "#000");
    drawLeft(ySO2, so2Ticks, d3.format(".1f"));
    drawRight(yNOx, noxTicks);
    drawX(pc, false);
    frame(pc);
    panelLabel("(c)", 752);
    vTitle(29, 842, 28, "#111", (t) => {
      t.append("tspan").text("SO");
      t.append("tspan").attr("font-size", 19).attr("dy", 7).text("2");
      t.append("tspan").attr("dy", -7).text(" (ppb)");
    });
    vTitle(1307, 843, 29, ORANGE_TEXT, (t) => t.text("NOx (ppb)"));

    // ---- (d) O3 / PM2.5 ----
    const pd = panels[3];
    const yO3 = d3.scaleLinear().domain([30.4, 78.2]).range([pd.bottom, pd.top]);
    const yPM = d3.scaleLinear().domain([-0.5, 28.3]).range([pd.bottom, pd.top]);
    drawLine(3, pmSeries, yPM, ORANGE, d3.curveMonotoneX);
    drawLine(3, o3Series, yO3, "#000");
    drawLeft(yO3, o3Ticks, d3.format("d"));
    drawRight(yPM, pmTicks);
    drawX(pd, true);
    frame(pd);
    panelLabel("(d)", 1072);
    vTitle(37, 1162, 29, "#111", (t) => {
      t.append("tspan").text("O");
      t.append("tspan").attr("font-size", 19).attr("dy", 7).text("3");
      t.append("tspan").attr("dy", -7).text(" (ppb)");
    });
    vTitle(1328, 1162, 28, ORANGE_TEXT, (t) => {
      t.append("tspan").text("PM2.5 (");
      t.append("tspan").attr("font-style", "italic").text("μg/m");
      t.append("tspan").attr("font-size", 19).attr("dy", -10).text("3");
      t.append("tspan").attr("dy", 10).text(")");
    });

    svg.append("text").attr("x", 685).attr("y", 1380).attr("text-anchor", "middle")
      .attr("font-size", 33).attr("fill", "#111").text("Date (month-day)");
  }, []);

  return (
    <svg
      ref={ref}
      width={1348}
      height={1387}
      style={{ position: "absolute", left: 0, top: 0, background: "#fff" }}
    />
  );
}
